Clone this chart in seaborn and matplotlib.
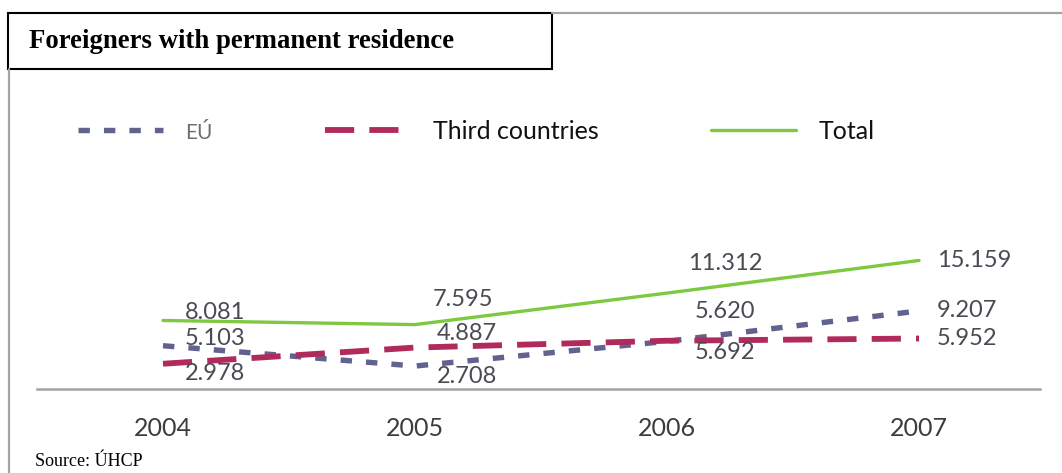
import matplotlib
matplotlib.use("Agg")
import matplotlib.pyplot as plt
import seaborn as sns
from matplotlib.patches import Rectangle
from matplotlib.lines import Line2D

# ---- data ----
years = [2004, 2005, 2006, 2007]
eu = [5103, 2708, 5620, 9207]
third = [2978, 4887, 5692, 5952]
total = [8081, 7595, 11312, 15159]
series_names = ["EÚ", "Third countries", "Total"]
title = "Foreigners with permanent residence"
source = "Source: ÚHCP"

# ---- styles ----
sns.set_theme(style="white")
plt.rcParams["font.family"] = ["Lato", "DejaVu Sans"]

W, H = 1062, 473
fig = plt.figure(figsize=(W / 100, H / 100), dpi=100)

def fx(px):
    return px / W

def fy(py):
    return 1 - py / H

ax = fig.add_axes([fx(37), fy(389), fx(1040) - fx(37), fy(80) - fy(389)])

c_eu = "#62628f"
c_third = "#b02a5c"
c_total = "#7fc942"

sns.lineplot(x=years, y=eu, ax=ax, color=c_eu, linewidth=3.9,
             linestyle=(0, (2.1, 2.6)), label=series_names[0])
sns.lineplot(x=years, y=third, ax=ax, color=c_third, linewidth=4.2,
             linestyle=(0, (5.0, 2.6)), label=series_names[1])
sns.lineplot(x=years, y=total, ax=ax, color=c_total, linewidth=2.4,
             label=series_names[2])

ax.set_xlim(2003.50, 2007.48)
ax.set_ylim(0, 36440)
ax.set_xticks(years)
ax.set_xticklabels([str(y) for y in years])
ax.set_yticks([])
ax.set_xlabel("")
ax.set_ylabel("")
for s in ["top", "left", "right"]:
    ax.spines[s].set_visible(False)
ax.spines["bottom"].set_color("#a3a3a3")
ax.spines["bottom"].set_linewidth(1.8)
ax.tick_params(axis="x", length=0, pad=20, labelsize=18, labelcolor="#3c3c3c")
ax.patch.set_alpha(0)

# ---- data labels ----
def fmt(v):
    return f"{v:,}".replace(",", ".")

offsets = {
    "total": [(52, 8), (48, 25), (58, 30), (18, 0)],
    "eu": [(52, 7), (52, -10), (58, 30), (18, 0)],
    "third": [(52, -10), (52, 14), (58, -12), (18, 0)],
}
for key, vals in (("total", total), ("eu", eu), ("third", third)):
    for i, (yr, v) in enumerate(zip(years, vals)):
        dx, dy = offsets[key][i]
        ax.annotate(fmt(v), xy=(yr, v), xytext=(dx, dy),
                    textcoords="offset pixels",
                    ha="left" if i == len(years) - 1 else "center",
                    va="center", fontsize=17, color="#4a4a52")

# ---- legend ----
handles, labels = ax.get_legend_handles_labels()
leg = ax.legend(handles, labels, ncol=3, frameon=False, loc="center left",
                bbox_to_anchor=(fx(78), fy(131)), bbox_transform=fig.transFigure,
                fontsize=18, handlelength=3.4, handletextpad=0.9,
                columnspacing=4.5, borderpad=0, borderaxespad=0)
for t in leg.get_texts():
    t.set_color("#111111")
leg.get_texts()[0].set_color("#707070")
leg.get_texts()[0].set_fontsize(15)

# ---- frame, title box, source ----
fig.add_artist(Line2D([fx(552), 1.0], [fy(13.5), fy(13.5)], color="#a3a3a3", lw=1.6))
fig.add_artist(Line2D([fx(9), fx(9)], [fy(69), 0.0], color="#a3a3a3", lw=1.6))
fig.add_artist(Rectangle((fx(8), fy(69)), fx(552) - fx(8), fy(13) - fy(69),
                         transform=fig.transFigure, fill=True, facecolor="white",
                         edgecolor="black", lw=1.5))
fig.text(fx(29), fy(42), title, fontsize=19.3, fontweight="bold",
         family=["Liberation Serif", "DejaVu Serif"], va="center", ha="left",
         color="black")
fig.text(fx(35), fy(461), source, fontsize=13,
         family=["Liberation Serif", "DejaVu Serif"], va="center", ha="left",
         color="black")

fig.savefig("out.png", dpi=100)
